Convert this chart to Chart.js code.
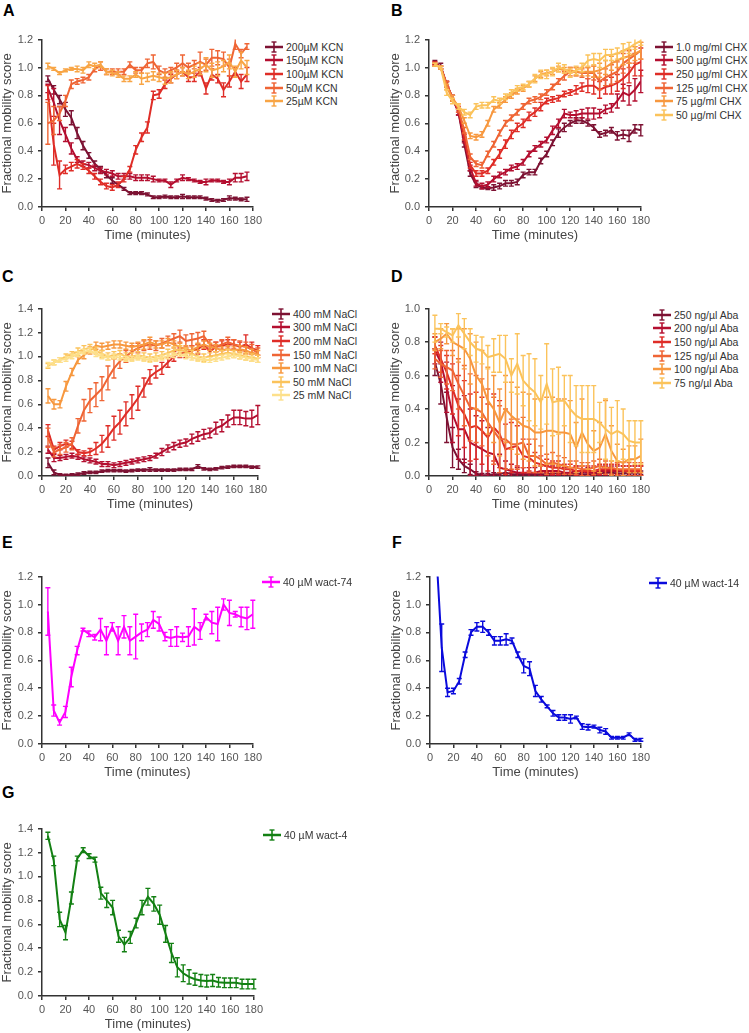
<!DOCTYPE html>
<html>
<head>
<meta charset="utf-8">
<script src="https://cdn.jsdelivr.net/npm/chart.js@4.4.1/dist/chart.umd.min.js"></script>
<style>
  body { margin: 0; background: #fff; font-family: "Liberation Sans", Arial, sans-serif; }
  #page { position: relative; width: 749px; height: 1033px; overflow: hidden; }
  canvas { position: absolute; }
  .letter { position: absolute; font-size: 16px; line-height: 16px; font-weight: bold; color: #000; }
  .legend { position: absolute; font-size: 10.5px; color: #333; }
  .legend .item { display: flex; align-items: center; height: 13.6px; white-space: nowrap; }
  .legend svg { margin-right: 3px; flex: none; }
</style>
</head>
<body>
<div id="page"></div>
<script>
// =========================
// Data
// =========================

const timesTo175 = [5, 10, 15, 20, 25, 30, 35, 40, 45, 50, 55, 60, 65, 70, 75, 80, 85, 90,
  95, 100, 105, 110, 115, 120, 125, 130, 135, 140, 145, 150, 155, 160, 165, 170, 175];
const timesTo180 = [...timesTo175, 180];

// A - KCN
const kcnLabels = ["200µM KCN", "150µM KCN", "100µM KCN", "50µM KCN", "25µM KCN"];
const kcn200 = [0.92,0.84,0.77,0.70,0.64,0.53,0.44,0.37,0.31,0.27,0.23,0.19,0.16,0.13,0.10,0.10,0.10,0.09,0.07,0.07,0.075,0.07,0.07,0.075,0.07,0.07,0.07,0.06,0.05,0.045,0.05,0.065,0.06,0.055,0.055];
const kcn200Err = [0.02,0.03,0.03,0.05,0.05,0.04,0.03,0.02,0.02,0.02,0.02,0.02,0.01,0.01,0.01,0.01,0.01,0.01,0.01,0.01,0.01,0.01,0.01,0.015,0.01,0.01,0.01,0.01,0.01,0.01,0.01,0.015,0.01,0.01,0.015];
const kcn150 = [0.85,0.75,0.62,0.52,0.42,0.34,0.31,0.30,0.28,0.26,0.25,0.24,0.22,0.22,0.22,0.21,0.21,0.21,0.20,0.19,0.19,0.16,0.19,0.21,0.20,0.19,0.18,0.18,0.19,0.19,0.18,0.18,0.21,0.21,0.22];
const kcn150Err = [0.03,0.1,0.1,0.05,0.04,0.02,0.02,0.02,0.02,0.02,0.02,0.02,0.02,0.02,0.02,0.02,0.02,0.02,0.02,0.01,0.01,0.02,0.01,0.02,0.01,0.01,0.01,0.02,0.01,0.01,0.01,0.02,0.03,0.03,0.03];
const kcn100 = [0.82,0.45,0.23,0.27,0.29,0.31,0.29,0.26,0.22,0.18,0.15,0.14,0.16,0.20,0.27,0.41,0.50,0.57,0.80,0.81,0.88,0.92,0.95,0.97,0.93,0.93,0.97,0.85,0.95,0.92,0.84,0.90,0.97,0.90,0.95];
const kcn100Err = [0.05,0.15,0.1,0.03,0.03,0.03,0.02,0.02,0.02,0.02,0.02,0.02,0.02,0.02,0.02,0.03,0.03,0.04,0.03,0.03,0.03,0.03,0.03,0.03,0.03,0.03,0.03,0.04,0.04,0.03,0.05,0.04,0.03,0.05,0.05];
const kcn50 = [0.60,0.62,0.67,0.76,0.88,0.90,0.91,0.93,0.99,1.01,0.97,0.97,0.97,0.97,1.02,0.98,0.98,1.03,1.04,0.98,0.96,0.98,1.00,1.03,1.00,1.02,1.04,1.02,1.07,1.07,1.06,1.00,1.17,1.10,1.15];
const kcn50Err = [0.15,0.1,0.05,0.04,0.03,0.02,0.02,0.02,0.02,0.03,0.02,0.02,0.02,0.02,0.02,0.02,0.02,0.03,0.05,0.03,0.03,0.02,0.03,0.06,0.03,0.03,0.07,0.04,0.06,0.05,0.05,0.06,0.04,0.03,0.02];
const kcn25 = [1.01,0.99,0.96,0.98,0.99,0.99,0.98,1.02,1.01,1.02,0.97,0.96,0.95,0.92,0.92,0.95,0.92,0.93,0.94,0.93,0.92,0.93,0.95,0.97,0.95,0.97,0.99,1.02,0.98,0.99,1.01,1.04,0.97,1.05,1.00];
const kcn25Err = [0.02,0.01,0.01,0.01,0.01,0.02,0.02,0.02,0.02,0.02,0.02,0.02,0.02,0.02,0.02,0.02,0.04,0.03,0.03,0.03,0.04,0.04,0.03,0.03,0.03,0.04,0.04,0.05,0.05,0.05,0.04,0.05,0.04,0.06,0.05];

// B - CHX
const chxLabels = ["1.0 mg/ml CHX", "500 µg/ml CHX", "250 µg/ml CHX", "125 µg/ml CHX", "75 µg/ml CHX", "50 µg/ml CHX"];
const chx1000 = [1.03,1.01,0.88,0.78,0.68,0.45,0.24,0.16,0.14,0.135,0.14,0.15,0.17,0.17,0.18,0.23,0.25,0.25,0.33,0.38,0.46,0.53,0.57,0.60,0.62,0.62,0.60,0.57,0.52,0.53,0.55,0.51,0.52,0.51,0.56,0.55];
const chx1000Err = [0.02,0.02,0.02,0.02,0.02,0.02,0.02,0.02,0.01,0.01,0.02,0.02,0.02,0.02,0.02,0.02,0.02,0.02,0.02,0.02,0.02,0.03,0.03,0.02,0.02,0.02,0.02,0.02,0.02,0.02,0.02,0.03,0.03,0.04,0.03,0.04];
const chx500 = [1.03,1.00,0.88,0.78,0.68,0.48,0.28,0.17,0.15,0.16,0.20,0.23,0.25,0.28,0.29,0.32,0.38,0.42,0.45,0.48,0.55,0.60,0.67,0.66,0.66,0.67,0.67,0.67,0.67,0.70,0.71,0.76,0.82,0.80,0.84,0.90];
const chx500Err = [0.01,0.01,0.02,0.02,0.02,0.02,0.02,0.02,0.02,0.02,0.02,0.02,0.02,0.02,0.02,0.02,0.02,0.02,0.02,0.02,0.03,0.03,0.03,0.02,0.03,0.03,0.04,0.04,0.03,0.03,0.03,0.05,0.06,0.07,0.08,0.08];
const chx250 = [1.03,1.00,0.88,0.78,0.70,0.50,0.30,0.24,0.24,0.26,0.32,0.38,0.45,0.52,0.57,0.60,0.65,0.68,0.72,0.76,0.77,0.78,0.81,0.82,0.84,0.86,0.87,0.87,0.84,0.86,0.87,0.89,0.92,0.96,1.02,1.04];
const chx250Err = [0.01,0.01,0.02,0.02,0.02,0.02,0.02,0.02,0.02,0.02,0.02,0.03,0.03,0.03,0.03,0.03,0.03,0.03,0.03,0.02,0.02,0.02,0.02,0.02,0.03,0.03,0.05,0.06,0.06,0.05,0.06,0.06,0.07,0.07,0.08,0.1];
const chx125 = [1.02,1.00,0.88,0.78,0.70,0.55,0.36,0.31,0.30,0.38,0.45,0.53,0.60,0.64,0.68,0.72,0.76,0.77,0.79,0.82,0.86,0.90,0.94,0.97,0.97,0.96,0.96,0.96,0.90,0.93,0.95,0.97,1.03,1.06,1.09,1.12];
const chx125Err = [0.01,0.01,0.02,0.02,0.02,0.02,0.02,0.02,0.02,0.02,0.02,0.02,0.02,0.02,0.02,0.02,0.02,0.02,0.02,0.02,0.02,0.02,0.03,0.03,0.03,0.03,0.04,0.05,0.06,0.06,0.07,0.07,0.07,0.06,0.06,0.06];
const chx75 = [1.02,1.00,0.86,0.78,0.72,0.62,0.51,0.50,0.52,0.60,0.70,0.73,0.77,0.80,0.83,0.85,0.88,0.92,0.95,0.96,0.97,0.99,0.98,0.98,0.97,0.97,0.97,0.97,0.98,1.00,1.03,1.05,1.07,1.08,1.10,1.12];
const chx75Err = [0.01,0.01,0.02,0.02,0.02,0.02,0.02,0.02,0.02,0.02,0.02,0.02,0.02,0.02,0.02,0.02,0.02,0.02,0.02,0.02,0.02,0.02,0.02,0.02,0.03,0.03,0.03,0.04,0.05,0.05,0.05,0.05,0.05,0.05,0.05,0.06];
const chx50 = [1.02,1.00,0.82,0.76,0.72,0.68,0.66,0.72,0.73,0.73,0.77,0.76,0.79,0.82,0.85,0.86,0.88,0.92,0.95,0.95,0.97,1.00,0.99,0.96,0.98,1.00,1.05,1.06,1.05,1.09,1.09,1.10,1.12,1.14,1.17,1.19];
const chx50Err = [0.01,0.01,0.02,0.02,0.02,0.02,0.02,0.02,0.02,0.02,0.02,0.02,0.02,0.02,0.02,0.02,0.02,0.03,0.03,0.03,0.03,0.03,0.03,0.03,0.03,0.03,0.04,0.04,0.05,0.04,0.04,0.04,0.05,0.04,0.04,0.03];

// C - NaCl
const naclLabels = ["400 mM NaCl", "300 mM NaCl", "200 mM NaCl", "150 mM NaCl", "100 mM NaCl", "50 mM NaCl", "25 mM NaCl"];
const nacl400 = [0.11,0.03,0.01,0.005,0.01,0.015,0.025,0.03,0.03,0.04,0.045,0.045,0.045,0.04,0.045,0.05,0.05,0.055,0.05,0.05,0.05,0.05,0.055,0.055,0.055,0.08,0.06,0.055,0.06,0.07,0.075,0.08,0.08,0.08,0.075,0.075];
const nacl400Err = [0.04,0.02,0.01,0.01,0.01,0.01,0.01,0.01,0.01,0.01,0.01,0.01,0.01,0.01,0.01,0.01,0.01,0.015,0.01,0.01,0.01,0.01,0.01,0.01,0.01,0.015,0.01,0.01,0.01,0.01,0.01,0.01,0.01,0.01,0.01,0.01];
const nacl300 = [0.22,0.15,0.15,0.16,0.17,0.16,0.14,0.13,0.12,0.10,0.10,0.09,0.10,0.11,0.12,0.13,0.14,0.15,0.17,0.20,0.23,0.25,0.27,0.28,0.31,0.33,0.35,0.36,0.40,0.42,0.46,0.49,0.49,0.48,0.48,0.51];
const nacl300Err = [0.03,0.03,0.02,0.02,0.02,0.02,0.02,0.02,0.02,0.02,0.02,0.02,0.02,0.02,0.02,0.02,0.02,0.02,0.02,0.03,0.03,0.03,0.03,0.03,0.04,0.04,0.04,0.04,0.05,0.05,0.05,0.06,0.06,0.06,0.07,0.08];
const nacl200 = [0.38,0.22,0.25,0.27,0.26,0.20,0.19,0.20,0.23,0.27,0.33,0.40,0.45,0.52,0.58,0.65,0.74,0.83,0.87,0.90,0.95,1.00,1.03,1.03,1.05,1.06,1.10,1.04,1.08,1.09,1.10,1.10,1.08,1.10,1.07,1.05];
const nacl200Err = [0.05,0.03,0.03,0.03,0.03,0.02,0.02,0.03,0.05,0.07,0.09,0.1,0.1,0.1,0.1,0.1,0.08,0.06,0.05,0.05,0.04,0.04,0.04,0.04,0.04,0.04,0.04,0.04,0.04,0.04,0.04,0.04,0.04,0.08,0.05,0.04];
const nacl150 = [0.32,0.20,0.22,0.24,0.27,0.42,0.55,0.63,0.68,0.73,0.82,0.90,0.96,1.00,1.04,1.07,1.09,1.10,1.09,1.11,1.13,1.15,1.17,1.13,1.14,1.15,1.17,1.10,1.08,1.10,1.12,1.10,1.09,1.08,1.06,1.03];
const nacl150Err = [0.08,0.04,0.04,0.04,0.05,0.06,0.09,0.1,0.1,0.1,0.1,0.08,0.06,0.05,0.05,0.04,0.04,0.04,0.04,0.04,0.04,0.04,0.05,0.05,0.05,0.05,0.04,0.04,0.04,0.04,0.04,0.04,0.04,0.04,0.04,0.04];
const nacl100 = [0.67,0.60,0.60,0.75,0.87,0.97,1.01,1.05,1.09,1.08,1.09,1.10,1.10,1.09,1.08,1.09,1.10,1.12,1.10,1.10,1.12,1.10,1.08,1.06,1.05,1.08,1.10,1.08,1.07,1.05,1.06,1.05,1.06,1.05,1.03,1.02];
const nacl100Err = [0.06,0.04,0.03,0.04,0.03,0.03,0.03,0.03,0.03,0.03,0.03,0.03,0.03,0.03,0.03,0.03,0.04,0.04,0.03,0.03,0.03,0.03,0.03,0.03,0.03,0.03,0.03,0.03,0.03,0.03,0.03,0.03,0.03,0.03,0.03,0.03];
const nacl50 = [0.92,0.95,0.97,1.00,1.02,1.04,1.06,1.07,1.05,1.02,1.00,1.01,1.02,1.00,1.00,1.01,1.00,0.99,1.00,1.01,1.03,1.05,1.06,1.04,1.02,1.00,0.99,1.00,1.01,1.02,1.03,1.02,1.01,1.00,0.99,0.98];
const nacl50Err = [0.02,0.02,0.02,0.02,0.02,0.03,0.03,0.03,0.03,0.03,0.03,0.03,0.03,0.03,0.03,0.03,0.03,0.03,0.03,0.03,0.03,0.03,0.03,0.03,0.03,0.03,0.03,0.03,0.03,0.03,0.03,0.03,0.03,0.03,0.03,0.03];
const nacl25 = [0.93,0.95,0.97,0.98,1.00,1.02,1.04,1.05,1.02,1.00,0.99,1.00,0.99,0.98,0.98,0.99,0.98,0.97,0.98,0.99,1.00,1.01,1.02,1.00,0.99,0.98,0.97,0.97,0.98,0.99,1.00,1.01,1.00,0.99,0.98,0.97];
const nacl25Err = [0.02,0.02,0.02,0.02,0.02,0.02,0.02,0.02,0.02,0.02,0.02,0.02,0.02,0.02,0.02,0.02,0.02,0.02,0.02,0.02,0.02,0.02,0.02,0.02,0.02,0.02,0.02,0.02,0.02,0.02,0.02,0.02,0.02,0.02,0.02,0.02];

// D - Aba
const abaLabels = ["250 ng/µl Aba", "200 ng/µl Aba", "150 ng/µl Aba", "125 ng/µl Aba", "100 ng/µl Aba", "75 ng/µl Aba"];
const aba250 = [0.68,0.55,0.35,0.17,0.10,0.06,0.04,0.015,0.005,0.005,0.01,0.01,0.02,0.01,0.01,0.01,0.01,0.01,0.01,0.01,0.015,0.015,0.01,0.01,0.015,0.01,0.01,0.01,0.015,0.02,0.02,0.015,0.015,0.02,0.02,0.02];
const aba250Err = [0.08,0.12,0.15,0.12,0.06,0.04,0.03,0.01,0.01,0.01,0.01,0.01,0.02,0.01,0.01,0.01,0.01,0.01,0.01,0.01,0.01,0.01,0.01,0.01,0.01,0.01,0.01,0.01,0.01,0.01,0.01,0.01,0.01,0.01,0.01,0.01];
const aba200 = [0.75,0.68,0.53,0.37,0.28,0.28,0.20,0.18,0.16,0.14,0.13,0.05,0.04,0.03,0.02,0.02,0.02,0.02,0.03,0.03,0.03,0.03,0.02,0.02,0.03,0.03,0.02,0.02,0.03,0.03,0.03,0.03,0.03,0.03,0.03,0.03];
const aba200Err = [0.08,0.12,0.15,0.17,0.18,0.2,0.2,0.18,0.17,0.15,0.15,0.08,0.05,0.04,0.03,0.03,0.03,0.03,0.03,0.03,0.03,0.03,0.03,0.03,0.03,0.03,0.03,0.03,0.03,0.03,0.03,0.03,0.03,0.03,0.03,0.03];
const aba150 = [0.78,0.70,0.62,0.52,0.42,0.37,0.29,0.30,0.27,0.23,0.29,0.25,0.16,0.17,0.18,0.12,0.11,0.08,0.07,0.06,0.05,0.05,0.04,0.04,0.03,0.03,0.03,0.03,0.04,0.04,0.04,0.04,0.03,0.03,0.03,0.03];
const aba150Err = [0.05,0.08,0.1,0.15,0.18,0.2,0.2,0.2,0.2,0.2,0.2,0.2,0.15,0.15,0.12,0.1,0.08,0.06,0.05,0.04,0.04,0.04,0.03,0.03,0.03,0.03,0.03,0.03,0.03,0.03,0.03,0.03,0.03,0.03,0.03,0.03];
const aba125 = [0.70,0.67,0.65,0.63,0.55,0.48,0.41,0.40,0.38,0.32,0.27,0.22,0.22,0.19,0.19,0.20,0.12,0.12,0.10,0.07,0.08,0.07,0.06,0.05,0.05,0.04,0.04,0.05,0.06,0.05,0.05,0.04,0.04,0.04,0.04,0.04];
const aba125Err = [0.06,0.08,0.1,0.12,0.15,0.18,0.2,0.2,0.2,0.2,0.2,0.2,0.18,0.15,0.15,0.15,0.1,0.1,0.08,0.06,0.06,0.05,0.05,0.04,0.04,0.04,0.04,0.04,0.04,0.04,0.04,0.04,0.04,0.04,0.04,0.04];
const aba100 = [0.80,0.82,0.85,0.80,0.78,0.76,0.70,0.60,0.55,0.45,0.40,0.32,0.40,0.36,0.33,0.30,0.29,0.26,0.26,0.27,0.27,0.26,0.26,0.25,0.17,0.26,0.19,0.15,0.17,0.25,0.15,0.09,0.08,0.10,0.10,0.12];
const aba100Err = [0.05,0.06,0.06,0.08,0.1,0.12,0.15,0.2,0.2,0.2,0.2,0.2,0.2,0.2,0.2,0.2,0.2,0.2,0.2,0.2,0.2,0.2,0.2,0.2,0.15,0.2,0.15,0.12,0.15,0.2,0.15,0.1,0.08,0.08,0.08,0.1];
const aba75 = [0.88,0.88,0.86,0.84,0.90,0.85,0.80,0.76,0.75,0.71,0.72,0.73,0.70,0.60,0.67,0.57,0.53,0.50,0.44,0.55,0.44,0.45,0.45,0.40,0.36,0.34,0.34,0.34,0.32,0.28,0.25,0.27,0.25,0.21,0.20,0.20];
const aba75Err = [0.08,0.03,0.03,0.04,0.07,0.09,0.08,0.08,0.08,0.07,0.1,0.11,0.14,0.1,0.18,0.15,0.2,0.2,0.16,0.24,0.2,0.2,0.15,0.2,0.18,0.2,0.2,0.2,0.12,0.18,0.16,0.18,0.15,0.12,0.13,0.13];

// E, F, G - wact compounds
const wact74 = [0.95,0.24,0.155,0.23,0.48,0.67,0.82,0.79,0.765,0.82,0.74,0.84,0.74,0.84,0.74,0.77,0.80,0.82,0.89,0.86,0.77,0.76,0.77,0.765,0.77,0.84,0.81,0.91,0.87,0.86,1.00,0.94,0.93,0.91,0.90,0.93];
const wact74Err = [0.17,0.04,0.02,0.04,0.07,0.03,0.01,0.02,0.02,0.08,0.1,0.03,0.1,0.08,0.1,0.16,0.06,0.05,0.06,0.05,0.03,0.06,0.07,0.03,0.07,0.13,0.06,0.02,0.08,0.12,0.04,0.09,0.02,0.07,0.08,0.1];
const wact14 = [1.43,0.69,0.37,0.38,0.45,0.64,0.80,0.84,0.84,0.80,0.74,0.74,0.75,0.74,0.64,0.56,0.54,0.38,0.32,0.27,0.22,0.19,0.19,0.18,0.19,0.125,0.12,0.125,0.10,0.09,0.045,0.045,0.045,0.07,0.03,0.03];
const wact14Err = [0.05,0.17,0.03,0.02,0.02,0.02,0.02,0.03,0.04,0.02,0.03,0.03,0.04,0.02,0.02,0.05,0.05,0.04,0.02,0.01,0.02,0.02,0.02,0.03,0.01,0.02,0.02,0.01,0.02,0.02,0.01,0.01,0.01,0.01,0.01,0.01];
const wact4 = [1.34,1.13,0.64,0.53,0.82,1.15,1.22,1.17,1.14,0.86,0.80,0.74,0.50,0.43,0.49,0.61,0.74,0.83,0.77,0.68,0.52,0.36,0.24,0.19,0.16,0.14,0.13,0.125,0.13,0.115,0.11,0.11,0.11,0.10,0.10,0.10];
const wact4Err = [0.03,0.04,0.06,0.06,0.05,0.02,0.02,0.02,0.02,0.05,0.06,0.06,0.05,0.06,0.05,0.04,0.06,0.07,0.06,0.08,0.07,0.08,0.08,0.07,0.06,0.05,0.05,0.05,0.05,0.04,0.04,0.04,0.04,0.04,0.04,0.04];

// =========================
// Colours
// =========================

const heat = ["#7d1233", "#b40f30", "#df2d27", "#ef6535", "#f7983f", "#fbc35b", "#fde08b"];
const kcnColors = ["#7d1233", "#b40f30", "#df2d27", "#ef6535", "#f8a545"];

// =========================
// Panels
// =========================

const panels = [
  { letter: "A", letterX: 3, letterY: 3, left: 42, top: 38, right: 253, bottom: 207, ymax: 1.2,
    canvasLeft: 0, legendX: 265, legendY: 40, times: timesTo175,
    labels: kcnLabels, colors: kcnColors,
    values: [kcn200, kcn150, kcn100, kcn50, kcn25],
    errors: [kcn200Err, kcn150Err, kcn100Err, kcn50Err, kcn25Err] },
  { letter: "B", letterX: 391, letterY: 3, left: 429, top: 38, right: 641, bottom: 207, ymax: 1.2,
    canvasLeft: 388, legendX: 655, legendY: 40, times: timesTo180,
    labels: chxLabels, colors: heat.slice(0, 6),
    values: [chx1000, chx500, chx250, chx125, chx75, chx50],
    errors: [chx1000Err, chx500Err, chx250Err, chx125Err, chx75Err, chx50Err] },
  { letter: "C", letterX: 2, letterY: 269, left: 42, top: 307, right: 258, bottom: 476, ymax: 1.4,
    canvasLeft: 0, legendX: 272, legendY: 307, times: timesTo180,
    labels: naclLabels, colors: heat,
    values: [nacl400, nacl300, nacl200, nacl150, nacl100, nacl50, nacl25],
    errors: [nacl400Err, nacl300Err, nacl200Err, nacl150Err, nacl100Err, nacl50Err, nacl25Err] },
  { letter: "D", letterX: 391, letterY: 269, left: 429, top: 307, right: 641, bottom: 476, ymax: 1.0,
    canvasLeft: 388, legendX: 653, legendY: 308, times: timesTo180,
    labels: abaLabels, colors: heat.slice(0, 6),
    values: [aba250, aba200, aba150, aba125, aba100, aba75],
    errors: [aba250Err, aba200Err, aba150Err, aba125Err, aba100Err, aba75Err] },
  { letter: "E", letterX: 2, letterY: 535, left: 42, top: 575, right: 253, bottom: 744, ymax: 1.2,
    canvasLeft: 0, legendX: 262, legendY: 575, times: timesTo180,
    labels: ["40 µM wact-74"], colors: ["#ff00ff"],
    values: [wact74], errors: [wact74Err] },
  { letter: "F", letterX: 392, letterY: 535, left: 430, top: 575, right: 641, bottom: 744, ymax: 1.2,
    canvasLeft: 389, legendX: 649, legendY: 576, times: timesTo180,
    labels: ["40 µM wact-14"], colors: ["#0a0adc"],
    values: [wact14], errors: [wact14Err] },
  { letter: "G", letterX: 2, letterY: 785, left: 42, top: 827, right: 254, bottom: 996, ymax: 1.4,
    canvasLeft: 0, legendX: 263, legendY: 828, times: timesTo180,
    labels: ["40 µM wact-4"], colors: ["#138013"],
    values: [wact4], errors: [wact4Err] },
];

// =========================
// Error bars
// =========================

const errorBarPlugin = {
  id: "errorBars",
  afterDatasetDraw(chart, args) {
    const ds = chart.data.datasets[args.index];
    if (!ds.errors) return;
    const ctx = chart.ctx;
    const y = chart.scales.y;
    const area = chart.chartArea;
    ctx.save();
    ctx.beginPath();
    ctx.rect(area.left, area.top, area.right - area.left + 4, area.bottom - area.top);
    ctx.clip();
    ctx.strokeStyle = ds.borderColor;
    ctx.lineWidth = 1.4;
    args.meta.data.forEach((pt, j) => {
      const v = ds.data[j].y;
      const e = ds.errors[j];
      const y1 = y.getPixelForValue(v - e);
      const y2 = y.getPixelForValue(v + e);
      ctx.beginPath();
      ctx.moveTo(pt.x, y1);
      ctx.lineTo(pt.x, y2);
      ctx.moveTo(pt.x - 2.5, y1);
      ctx.lineTo(pt.x + 2.5, y1);
      ctx.moveTo(pt.x - 2.5, y2);
      ctx.lineTo(pt.x + 2.5, y2);
      ctx.stroke();
    });
    ctx.restore();
  },
};

// =========================
// Drawing
// =========================

const page = document.getElementById("page");
const FONT = '"Liberation Sans", Arial, sans-serif';

function legendIcon(color) {
  return `<svg width="18" height="12" viewBox="0 0 18 12">
    <line x1="0" y1="6" x2="18" y2="6" stroke="${color}" stroke-width="2.5"/>
    <line x1="9" y1="1" x2="9" y2="11" stroke="${color}" stroke-width="1.6"/>
    <line x1="6.5" y1="1" x2="11.5" y2="1" stroke="${color}" stroke-width="1.4"/>
    <line x1="6.5" y1="11" x2="11.5" y2="11" stroke="${color}" stroke-width="1.4"/>
  </svg>`;
}

function renderPanel(p) {
  const letter = document.createElement("div");
  letter.className = "letter";
  letter.style.left = p.letterX + "px";
  letter.style.top = p.letterY + "px";
  letter.textContent = p.letter;
  page.appendChild(letter);

  const canvasTop = p.top - 10;
  const w = p.right + 12 - p.canvasLeft;
  const h = p.bottom - canvasTop + 36;
  const canvas = document.createElement("canvas");
  canvas.width = w;
  canvas.height = h;
  canvas.style.left = p.canvasLeft + "px";
  canvas.style.top = canvasTop + "px";
  canvas.style.width = w + "px";
  canvas.style.height = h + "px";
  page.appendChild(canvas);

  const n = p.values.length;
  new Chart(canvas, {
    type: "line",
    data: {
      datasets: p.values.map((vals, i) => ({
        label: p.labels[i],
        data: p.times.map((t, j) => ({ x: t, y: vals[j] })),
        errors: p.errors[i],
        borderColor: p.colors[i],
        borderWidth: 2,
        pointRadius: 0,
        tension: 0,
        fill: false,
        order: n - i,
      })),
    },
    options: {
      responsive: false,
      animation: false,
      devicePixelRatio: 1,
      layout: { padding: { top: 10, right: 12, left: 0, bottom: 0 } },
      plugins: { legend: { display: false }, tooltip: { enabled: false } },
      scales: {
        x: {
          type: "linear",
          min: 0,
          max: 180,
          border: { display: true, color: "#333", width: 1.5 },
          grid: { display: true, drawOnChartArea: false, drawTicks: true, tickLength: 4, color: "#333", lineWidth: 1.5 },
          ticks: { stepSize: 20, autoSkip: false, maxRotation: 0, padding: 3, color: "#555", font: { family: FONT, size: 11 } },
          title: { display: true, text: "Time (minutes)", color: "#444", padding: 0, font: { family: FONT, size: 13 } },
          afterFit: (s) => { s.height = 36; },
        },
        y: {
          min: 0,
          max: p.ymax,
          border: { display: true, color: "#333", width: 1.5 },
          grid: { display: true, drawOnChartArea: false, drawTicks: true, tickLength: 4, color: "#333", lineWidth: 1.5 },
          ticks: { stepSize: 0.2, padding: 5, color: "#555", font: { family: FONT, size: 11 },
            callback: (v) => v.toFixed(1) },
          title: { display: true, text: "Fractional mobility score", color: "#444", padding: 0, font: { family: FONT, size: 13 } },
          afterFit: (s) => { s.width = p.left - p.canvasLeft; },
        },
      },
    },
    plugins: [errorBarPlugin],
  });

  const legend = document.createElement("div");
  legend.className = "legend";
  legend.style.left = p.legendX + "px";
  legend.style.top = p.legendY + "px";
  legend.innerHTML = p.labels
    .map((label, i) => `<div class="item">${legendIcon(p.colors[i])}<span>${label}</span></div>`)
    .join("");
  page.appendChild(legend);
}

panels.forEach(renderPanel);
</script>
</body>
</html>
